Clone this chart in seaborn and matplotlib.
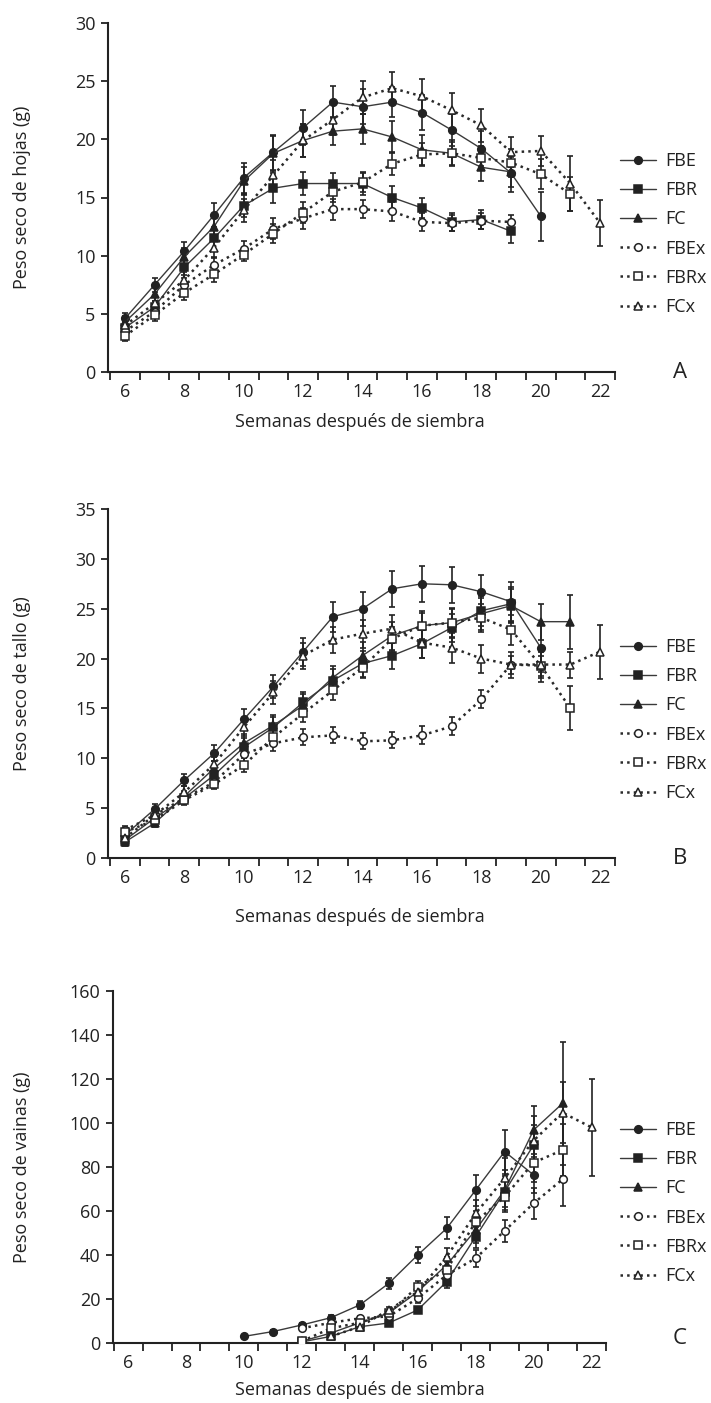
import numpy as np
import pandas as pd
import matplotlib
matplotlib.use("Agg")
import matplotlib.pyplot as plt
import seaborn as sns

# ---------------- data ----------------
series = ["FBE", "FBR", "FC", "FBEx", "FBRx", "FCx"]
week_ticks = [6, 8, 10, 12, 14, 16, 18, 20, 22]

# Panel A: leaves dry weight (g)
A_weeks = {
    "FBE": list(range(6, 21)),
    "FBR": list(range(6, 20)),
    "FC": list(range(6, 20)),
    "FBEx": list(range(6, 20)),
    "FBRx": list(range(6, 22)),
    "FCx": list(range(6, 23)),
}
A_FBE = [4.6, 7.5, 10.4, 13.5, 16.7, 18.9, 21.0, 23.2, 22.8, 23.2, 22.3, 20.8, 19.2, 17.1, 13.4]
A_FBR = [3.8, 5.6, 9.0, 11.5, 14.3, 15.8, 16.2, 16.2, 16.2, 15.0, 14.1, 12.9, 13.1, 12.1]
A_FC = [4.3, 6.7, 9.9, 12.5, 16.4, 18.8, 19.9, 20.7, 20.9, 20.2, 19.1, 18.8, 17.6, 17.2]
A_FBEx = [3.5, 5.2, 7.5, 9.2, 10.6, 12.3, 13.2, 14.0, 14.0, 13.8, 12.9, 12.8, 13.0, 12.9]
A_FBRx = [3.1, 4.9, 6.8, 8.4, 10.1, 11.9, 13.7, 15.5, 16.3, 17.9, 18.7, 18.8, 18.4, 18.0, 17.0, 15.3]
A_FCx = [4.0, 5.9, 7.9, 10.7, 13.9, 16.9, 19.9, 21.7, 23.6, 24.4, 23.7, 22.5, 21.2, 18.9, 19.0, 16.2, 12.8]
A_FBE_err = [0.5, 0.6, 0.8, 1.0, 1.3, 1.5, 1.5, 1.4, 1.5, 1.3, 1.5, 1.4, 1.5, 1.6, 2.1]
A_FBR_err = [0.5, 0.5, 0.7, 0.9, 1.0, 1.3, 1.0, 0.9, 1.0, 1.0, 0.9, 0.8, 0.8, 1.0]
A_FC_err = [0.5, 0.6, 0.8, 1.0, 1.2, 1.5, 1.4, 1.2, 1.3, 1.4, 1.3, 1.1, 1.2, 1.3]
A_FBEx_err = [0.4, 0.5, 0.6, 0.7, 0.7, 0.9, 0.9, 0.9, 0.8, 0.8, 0.8, 0.7, 0.7, 0.6]
A_FBRx_err = [0.4, 0.5, 0.6, 0.7, 0.6, 0.8, 0.9, 0.9, 0.8, 1.0, 1.0, 1.0, 1.0, 1.2, 1.3, 1.5]
A_FCx_err = [0.5, 0.6, 0.7, 0.9, 1.0, 1.3, 1.4, 1.3, 1.4, 1.4, 1.5, 1.5, 1.4, 1.3, 1.3, 2.4, 2.0]

# Panel B: stem dry weight (g)
B_weeks = {
    "FBE": list(range(6, 21)),
    "FBR": list(range(6, 20)),
    "FC": list(range(6, 22)),
    "FBEx": list(range(6, 21)),
    "FBRx": list(range(6, 22)),
    "FCx": list(range(6, 23)),
}
B_FBE = [2.3, 4.9, 7.8, 10.5, 13.9, 17.2, 20.7, 24.2, 25.0, 27.0, 27.5, 27.4, 26.7, 25.7, 21.1]
B_FBR = [1.8, 4.0, 6.0, 8.3, 11.1, 13.1, 15.6, 17.8, 19.5, 20.3, 21.5, 23.1, 24.8, 25.5]
B_FC = [1.6, 3.5, 6.2, 9.0, 11.5, 13.3, 15.3, 18.1, 20.3, 22.3, 23.3, 23.6, 24.5, 25.3, 23.7, 23.7]
B_FBEx = [2.8, 4.3, 6.0, 7.6, 10.4, 11.5, 12.1, 12.3, 11.7, 11.8, 12.3, 13.2, 15.9, 19.4, 19.3]
B_FBRx = [2.6, 3.8, 5.8, 7.4, 9.3, 12.1, 14.5, 16.8, 19.1, 22.0, 23.3, 23.6, 24.1, 22.9, 19.3, 15.0]
B_FCx = [2.0, 4.3, 6.6, 9.4, 13.1, 16.6, 20.3, 21.9, 22.5, 23.0, 21.6, 21.1, 20.0, 19.4, 19.4, 19.4, 20.7]
B_FBE_err = [0.4, 0.5, 0.6, 0.8, 1.0, 1.2, 1.4, 1.5, 1.7, 1.8, 1.8, 1.8, 1.7, 2.0, 2.4]
B_FBR_err = [0.4, 0.4, 0.5, 0.7, 0.9, 1.0, 1.0, 1.2, 1.3, 1.3, 1.4, 1.4, 1.5, 1.7]
B_FC_err = [0.4, 0.4, 0.5, 0.7, 0.9, 1.0, 1.1, 1.2, 1.4, 1.4, 1.5, 1.5, 1.6, 1.7, 1.8, 2.7]
B_FBEx_err = [0.4, 0.4, 0.5, 0.5, 0.8, 0.8, 0.8, 0.8, 0.8, 0.8, 0.9, 0.9, 0.9, 0.9, 1.0]
B_FBRx_err = [0.4, 0.4, 0.5, 0.5, 0.7, 0.8, 0.9, 1.0, 1.0, 1.2, 1.3, 1.4, 1.4, 1.5, 1.6, 2.2]
B_FCx_err = [0.4, 0.5, 0.6, 0.7, 0.9, 1.2, 1.3, 1.3, 1.4, 1.4, 1.5, 1.5, 1.4, 1.3, 1.3, 1.3, 2.7]

# Panel C: pod dry weight (g)
C_weeks = {
    "FBE": list(range(10, 21)),
    "FBR": list(range(12, 21)),
    "FC": list(range(12, 22)),
    "FBEx": list(range(12, 22)),
    "FBRx": list(range(12, 22)),
    "FCx": list(range(13, 23)),
}
C_FBE = [3.0, 5.2, 8.2, 11.5, 17.3, 27.1, 40.0, 52.1, 69.5, 87.0, 76.4]
C_FBR = [0.5, 3.0, 7.4, 9.1, 15.0, 27.9, 48.3, 68.8, 90.0]
C_FC = [0.8, 4.5, 9.2, 13.6, 23.3, 35.5, 51.4, 69.5, 96.8, 108.9]
C_FBEx = [6.7, 9.2, 11.2, 12.1, 20.3, 30.9, 38.5, 51.0, 63.5, 74.4]
C_FBRx = [0.8, 6.7, 9.2, 13.6, 25.6, 33.2, 55.1, 66.5, 82.0, 87.7]
C_FCx = [3.0, 7.4, 15.0, 23.3, 39.2, 58.9, 74.9, 92.0, 104.7, 98.0]
C_FBE_err = [0.5, 0.6, 0.8, 1.2, 1.8, 2.5, 3.5, 5.0, 7.0, 10.0, 8.0]
C_FBR_err = [0.5, 0.8, 1.0, 1.2, 1.5, 3.0, 5.0, 7.0, 9.0]
C_FC_err = [0.5, 0.8, 1.0, 1.5, 2.5, 3.5, 6.0, 9.0, 11.0, 28.0]
C_FBEx_err = [0.6, 0.8, 1.0, 1.2, 2.0, 3.0, 4.0, 5.0, 7.0, 12.0]
C_FBRx_err = [0.5, 0.8, 1.0, 1.5, 2.5, 3.5, 5.0, 7.0, 9.0, 12.0]
C_FCx_err = [0.6, 0.8, 1.5, 2.0, 4.0, 6.0, 9.0, 11.0, 14.0, 22.0]

panels = [
    dict(letter="A", weeks=A_weeks,
         vals={"FBE": A_FBE, "FBR": A_FBR, "FC": A_FC, "FBEx": A_FBEx, "FBRx": A_FBRx, "FCx": A_FCx},
         errs={"FBE": A_FBE_err, "FBR": A_FBR_err, "FC": A_FC_err, "FBEx": A_FBEx_err, "FBRx": A_FBRx_err, "FCx": A_FCx_err},
         ylabel="Peso seco de hojas (g)", ymax=30, ystep=5),
    dict(letter="B", weeks=B_weeks,
         vals={"FBE": B_FBE, "FBR": B_FBR, "FC": B_FC, "FBEx": B_FBEx, "FBRx": B_FBRx, "FCx": B_FCx},
         errs={"FBE": B_FBE_err, "FBR": B_FBR_err, "FC": B_FC_err, "FBEx": B_FBEx_err, "FBRx": B_FBRx_err, "FCx": B_FCx_err},
         ylabel="Peso seco de tallo (g)", ymax=35, ystep=5),
    dict(letter="C", weeks=C_weeks,
         vals={"FBE": C_FBE, "FBR": C_FBR, "FC": C_FC, "FBEx": C_FBEx, "FBRx": C_FBRx, "FCx": C_FCx},
         errs={"FBE": C_FBE_err, "FBR": C_FBR_err, "FC": C_FC_err, "FBEx": C_FBEx_err, "FBRx": C_FBRx_err, "FCx": C_FCx_err},
         ylabel="Peso seco de vainas (g)", ymax=160, ystep=20),
]

# ---------------- style ----------------
sns.set_style("ticks")
plt.rcParams["font.family"] = ["Open Sans", "DejaVu Sans"]
FS = 13
INK = "#222222"

styles = {
    "FBE": dict(marker="o", mfc=INK, ls="-", lw=1.0, color="#3a3a3a"),
    "FBR": dict(marker="s", mfc=INK, ls="-", lw=1.0, color="#3a3a3a"),
    "FC": dict(marker="^", mfc=INK, ls="-", lw=1.0, color="#3a3a3a"),
    "FBEx": dict(marker="o", mfc="white", ls=":", lw=1.8, color="#2a2a2a"),
    "FBRx": dict(marker="s", mfc="white", ls=":", lw=1.8, color="#2a2a2a"),
    "FCx": dict(marker="^", mfc="white", ls=":", lw=1.8, color="#2a2a2a"),
}

W, H = 711, 1403
fig = plt.figure(figsize=(W / 100, H / 100), dpi=100)

# axes placement in pixels: (left, top, right, bottom)
boxes = [(108, 23, 615, 372), (108, 509, 615, 858), (113, 991, 606, 1343)]
xlims = [(5.43, 22.5), (5.43, 22.5), (5.48, 22.5)]
legend_cy = [234, 720, 1203]
letter_pos = [(680, 373), (680, 858), (680, 1338)]
xlabel_dy = [41, 50, 38]

for p, box, xl, lcy, lp, xdy in zip(panels, boxes, xlims, legend_cy, letter_pos, xlabel_dy):
    l, t, r, b = box
    ax = fig.add_axes([l / W, 1 - b / H, (r - l) / W, (b - t) / H])
    rows = []
    for s in series:
        for w, v, e in zip(p["weeks"][s], p["vals"][s], p["errs"][s]):
            rows.append((s, w, v, e))
    df = pd.DataFrame(rows, columns=["serie", "week", "value", "err"])

    handles = []
    for s in series:
        sub = df[df["serie"] == s]
        st = styles[s]
        ax.errorbar(sub["week"], sub["value"], yerr=sub["err"], fmt="none",
                    ecolor=INK, elinewidth=1.2, capsize=2.2, capthick=1.2, zorder=2)
        sns.lineplot(data=sub, x="week", y="value", ax=ax, color=st["color"],
                     linestyle=st["ls"], linewidth=st["lw"], marker=st["marker"],
                     markersize=5.5 if st["marker"] != "^" else 6,
                     markerfacecolor=st["mfc"], markeredgecolor=INK,
                     markeredgewidth=1.1, errorbar=None, label=s, legend=False,
                     zorder=3)
        handles.append(ax.lines[-1])

    ax.set_xlim(*xl)
    ax.set_ylim(0, p["ymax"])
    ax.set_yticks(np.arange(0, p["ymax"] + 0.1, p["ystep"]))
    ax.set_xticks(week_ticks)
    ax.set_xticklabels([str(w) for w in week_ticks])
    ax.set_xticks(np.arange(5.5, 22.6, 1.0), minor=True)
    ax.tick_params(axis="x", which="major", length=0, pad=8, labelsize=FS, colors=INK)
    ax.tick_params(axis="x", which="minor", length=6, width=1.3, direction="out", color=INK)
    ax.tick_params(axis="y", which="major", length=5, width=1.3, direction="out",
                   labelsize=FS, colors=INK, pad=4)
    for sp in ["top", "right"]:
        ax.spines[sp].set_visible(False)
    for sp in ["left", "bottom"]:
        ax.spines[sp].set_linewidth(1.5)
        ax.spines[sp].set_color(INK)

    ax.set_ylabel(p["ylabel"], fontsize=FS, color=INK)
    ax.yaxis.set_label_coords((31 - l) / (r - l), 0.5)
    ax.set_xlabel("Semanas después de siembra", fontsize=FS, color=INK)
    ax.xaxis.set_label_coords((360 - l) / (r - l), -xdy / (b - t))

    leg = ax.legend(handles=handles, labels=series, loc="center left",
                    bbox_to_anchor=(620 / W, 1 - lcy / H), bbox_transform=fig.transFigure,
                    frameon=False, fontsize=FS, handlelength=2.0, handletextpad=0.5,
                    labelspacing=0.62, borderpad=0, borderaxespad=0)
    for txt in leg.get_texts():
        txt.set_color(INK)

    fig.text(lp[0] / W, 1 - lp[1] / H, p["letter"], fontsize=16, color=INK,
             ha="center", va="center")

fig.savefig("out.png", dpi=100)
